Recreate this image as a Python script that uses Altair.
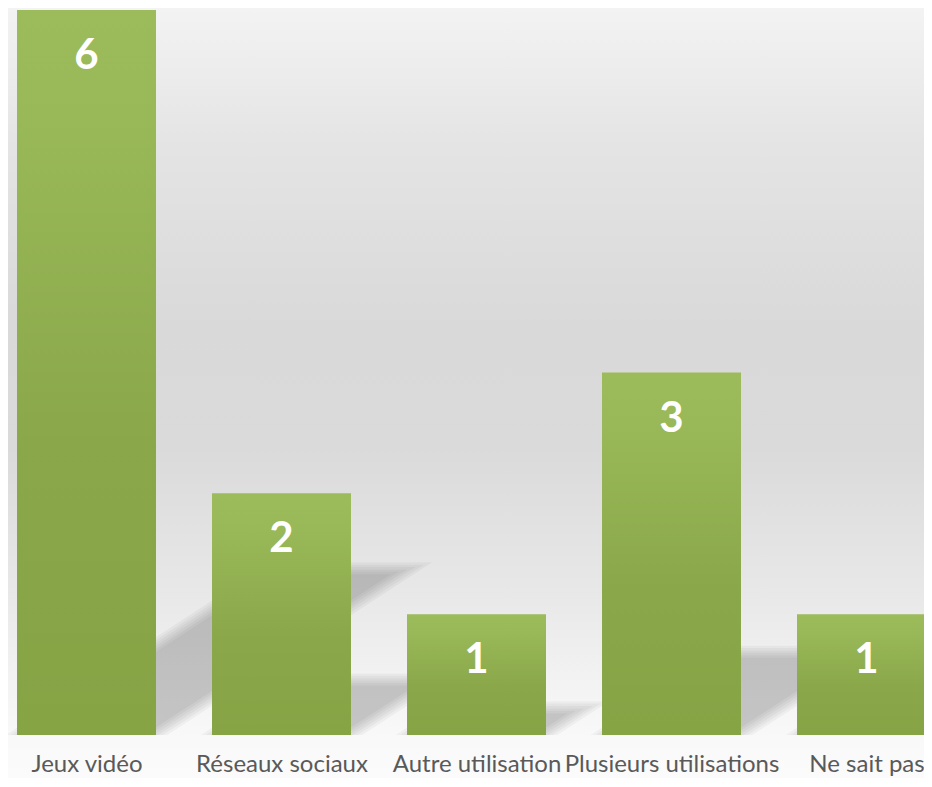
import altair as alt
import pandas as pd

# ---- data ----
categories = ["Jeux vidéo", "Réseaux sociaux", "Autre utilisation", "Plusieurs utilisations", "Ne sait pas"]
values = [6, 2, 1, 3, 1]

# ---- layout / style constants ----
W = 916
H = 725
PAD_TOP = 2
PAD_BOTTOM = 43
STEP_PX = 195.0
X0 = -0.4026
X_DOMAIN = [X0, X0 + W / STEP_PX]
Y_DOMAIN = [0, 6]
HALF = 0.3564
PX_X = STEP_PX
PX_Y = H / (Y_DOMAIN[1] - Y_DOMAIN[0])
SH_SCALE = 0.23      # shadow height relative to bar
SH_SHEAR = 0.95      # x-units shift per y-unit of shadow height
BLUR = [-6.0, -3.6, -1.2, 1.2, 3.6, 6.0]

df = pd.DataFrame({"idx": list(range(len(values))), "cat": categories, "val": values})

# shadow parallelograms (derived from the values), drawn as ranged areas
rows = []
for i, v in enumerate(values):
    for k, d in enumerate(BLUR):
        t = SH_SCALE * v + d / PX_Y
        dx = 1.9 * d / PX_X
        a0 = i - HALF - dx
        b0 = i + HALF + dx
        s = t * SH_SHEAR
        a1, b1 = a0 + s, b0 + s

        def lo(x):
            return 0.0 if x <= b0 else (x - b0) / (b1 - b0) * t

        def hi(x):
            return (x - a0) / (a1 - a0) * t if x <= a1 else t

        for x in sorted([a0, min(b0, a1), max(b0, a1), b1]):
            rows.append({"grp": f"{i}-{k}", "sx": x, "lo": lo(x), "hi": hi(x)})
shadow_df = pd.DataFrame(rows)

label_expr = "[" + ",".join("'" + c + "'" for c in categories) + "][datum.value]"

x_scale = alt.Scale(domain=X_DOMAIN, nice=False, zero=False)
y_scale = alt.Scale(domain=Y_DOMAIN, nice=False, zero=True)
x_axis = alt.Axis(values=list(range(len(values))), labelExpr=label_expr, ticks=False,
                  domain=False, grid=False, title=None, labelFontSize=24, labelFont="Lato",
                  labelColor="#595959", labelPadding=17, labelOverlap=False, labelFlush=False,
                  labelLimit=0, zindex=2)

bg_grad = alt.LinearGradient(
    gradient="linear", x1=0, x2=0, y1=0, y2=1,
    stops=[
        alt.GradientStop(color="#f3f3f3", offset=0),
        alt.GradientStop(color="#e4e4e4", offset=0.18),
        alt.GradientStop(color="#d9d9d9", offset=0.415),
        alt.GradientStop(color="#dadada", offset=0.57),
        alt.GradientStop(color="#e8e8e8", offset=0.76),
        alt.GradientStop(color="#f4f4f4", offset=0.89),
        alt.GradientStop(color="#f9f9f9", offset=0.95),
        alt.GradientStop(color="#fbfbfb", offset=1),
    ])

bar_grad = alt.LinearGradient(
    gradient="linear", x1=0, x2=0, y1=0, y2=1,
    stops=[
        alt.GradientStop(color="#9cbb5a", offset=0),
        alt.GradientStop(color="#99b857", offset=0.15),
        alt.GradientStop(color="#8aa84a", offset=0.6),
        alt.GradientStop(color="#86a444", offset=1),
    ])

background = alt.Chart(pd.DataFrame({"a": [0]})).mark_rect(fill=bg_grad).encode(
    x=alt.value(0), x2=alt.value(W), y=alt.value(-PAD_TOP), y2=alt.value(H + PAD_BOTTOM)
)

shadows = alt.Chart(shadow_df).mark_area(
    color="black", opacity=0.035, clip=True
).encode(
    x=alt.X("sx:Q", scale=x_scale, axis=x_axis),
    y=alt.Y("lo:Q", scale=y_scale, axis=None),
    y2="hi:Q",
    detail="grp:N",
)

bars = alt.Chart(df).transform_calculate(
    x0=f"datum.idx - {HALF}", x1=f"datum.idx + {HALF}"
).mark_bar(color=bar_grad, clip=True).encode(
    x=alt.X("x0:Q", scale=x_scale, axis=x_axis),
    x2="x1:Q",
    y=alt.Y("val:Q", scale=y_scale, axis=None),
    y2=alt.datum(0),
)

labels = alt.Chart(df).mark_text(
    color="white", font="Lato", fontWeight="bold", fontSize=42,
    baseline="alphabetic", dy=59
).encode(
    x=alt.X("idx:Q", scale=x_scale, axis=x_axis),
    y=alt.Y("val:Q", scale=y_scale, axis=None),
    text="val:Q",
)

chart = alt.layer(background, shadows, bars, labels).properties(
    width=W, height=H,
    padding={"top": PAD_TOP, "bottom": PAD_BOTTOM, "left": 0, "right": 0},
    autosize=alt.AutoSizeParams(type="none"),
).configure_view(stroke=None)

chart.save("out.html", embed_options={"renderer": "svg", "actions": False})
